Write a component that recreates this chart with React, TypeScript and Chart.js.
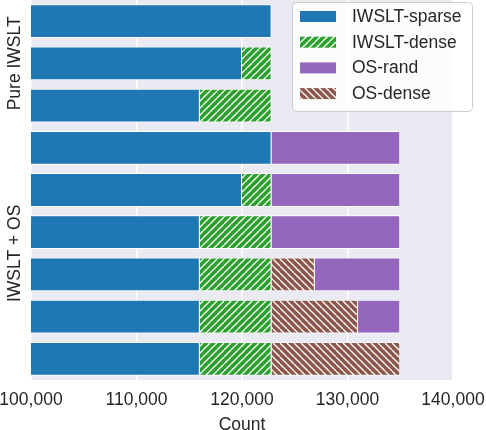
import { useEffect, useRef } from 'react'
import { Chart, registerables } from 'chart.js'

Chart.register(...registerables)

// one row per bar, top to bottom
const rows = ['p1', 'p2', 'p3', 'o1', 'o2', 'o3', 'o4', 'o5', 'o6']
const groupLabels = ['Pure IWSLT', 'IWSLT + OS']
const groupSizes = [3, 6]

const iwsltSparse = [122800, 120000, 116000, 122800, 120000, 116000, 116000, 116000, 116000]
const iwsltDense = [null, 2800, 6800, null, 2800, 6800, 6800, 6800, 6800]
const osDense = [null, null, null, null, null, null, 4100, 8200, 12200]
const osRand = [null, null, null, 12200, 12200, 12200, 8100, 4000, null]

const xTicks = [100000, 110000, 120000, 130000, 140000]

const TEXT = '#262626'
const FONT = "'Liberation Sans', Arial, sans-serif"
const FS = 17.5

function hatch(color: string, dir: '/' | '\\') {
  const s = 7
  const c = document.createElement('canvas')
  c.width = s
  c.height = s
  const g = c.getContext('2d')!
  g.fillStyle = color
  g.fillRect(0, 0, s, s)
  g.strokeStyle = '#ffffff'
  g.lineWidth = 1.3
  for (let k = -1; k <= 1; k++) {
    g.beginPath()
    if (dir === '/') {
      g.moveTo(k * s, s)
      g.lineTo(k * s + s, 0)
    } else {
      g.moveTo(k * s, 0)
      g.lineTo(k * s + s, s)
    }
    g.stroke()
  }
  return g.createPattern(c, 'repeat')!
}

const plotBg = {
  id: 'plotBg',
  beforeDraw(chart: Chart) {
    const { ctx, chartArea: a } = chart
    ctx.save()
    ctx.fillStyle = '#eaeaf2'
    ctx.fillRect(a.left, a.top, a.right - a.left, a.bottom - a.top)
    ctx.restore()
  },
}

const groupText = {
  id: 'groupText',
  afterDraw(chart: Chart) {
    const { ctx } = chart
    const y = chart.scales.y
    let start = 0
    ctx.save()
    ctx.fillStyle = TEXT
    ctx.font = `${FS}px ${FONT}`
    ctx.textAlign = 'center'
    ctx.textBaseline = 'middle'
    groupLabels.forEach((label, i) => {
      const end = start + groupSizes[i] - 1
      const cy = (y.getPixelForValue(start) + y.getPixelForValue(end)) / 2
      ctx.save()
      ctx.translate(15, cy)
      ctx.rotate(-Math.PI / 2)
      ctx.fillText(label, 0, 0)
      ctx.restore()
      start = end + 1
    })
    ctx.restore()
  },
}

// legend lists OS-rand before OS-dense
const legendOrder = [0, 1, 3, 2]

const boxLegend = {
  id: 'boxLegend',
  afterDraw(chart: Chart) {
    const { ctx } = chart
    const left = 292.5
    const top = 2.5
    const w = 180
    const h = 109
    ctx.save()
    ctx.beginPath()
    ctx.roundRect(left, top, w, h, 4)
    ctx.fillStyle = 'rgba(255,255,255,0.85)'
    ctx.fill()
    ctx.strokeStyle = '#cccccc'
    ctx.lineWidth = 1
    ctx.stroke()
    ctx.font = `${FS}px ${FONT}`
    ctx.textBaseline = 'middle'
    legendOrder.forEach((di, i) => {
      const ds = chart.data.datasets[di]
      const cy = 16.5 + i * 25.7
      ctx.fillStyle = ds.backgroundColor as any
      ctx.fillRect(300, cy - 5.5, 36, 11)
      ctx.fillStyle = TEXT
      ctx.fillText(ds.label as string, 352, cy + 0.5)
    })
    ctx.restore()
  },
}

export default function App() {
  const canvasRef = useRef<HTMLCanvasElement>(null)
  const chartRef = useRef<Chart | null>(null)

  useEffect(() => {
    document.body.style.margin = '0'
    if (!canvasRef.current) return
    if (chartRef.current) chartRef.current.destroy()

    const common = { borderColor: '#ffffff', borderWidth: 1, barPercentage: 0.8, categoryPercentage: 1.0 }

    chartRef.current = new Chart(canvasRef.current, {
      type: 'bar',
      data: {
        labels: rows,
        datasets: [
          { label: 'IWSLT-sparse', data: iwsltSparse, backgroundColor: '#1f77b4', ...common },
          { label: 'IWSLT-dense', data: iwsltDense, backgroundColor: hatch('#2ca02c', '/'), ...common },
          { label: 'OS-dense', data: osDense, backgroundColor: hatch('#8c564b', '\\'), ...common },
          { label: 'OS-rand', data: osRand, backgroundColor: '#9467bd', ...common },
        ],
      },
      options: {
        indexAxis: 'y',
        animation: false,
        responsive: true,
        maintainAspectRatio: false,
        layout: { padding: { left: 31, right: 33, top: 0, bottom: 0 } },
        scales: {
          x: {
            stacked: true,
            min: 100000,
            max: 140000,
            afterBuildTicks: (scale: any) => {
              scale.ticks = xTicks.map((v) => ({ value: v }))
            },
            afterFit: (scale: any) => {
              scale.height = 50
              scale.paddingLeft = 0
              scale.paddingRight = 0
            },
            grid: { color: '#ffffff', lineWidth: 1.6, drawTicks: false },
            border: { display: false },
            ticks: {
              padding: 10,
              color: TEXT,
              font: { family: FONT, size: FS },
              callback: (v) => Number(v).toLocaleString('en-US'),
            },
            title: {
              display: true,
              text: 'Count',
              color: TEXT,
              font: { family: FONT, size: FS },
              padding: { top: 0, bottom: -6 },
            },
          },
          y: {
            stacked: true,
            display: false,
          },
        },
        plugins: {
          legend: { display: false },
          tooltip: { enabled: false },
        },
      },
      plugins: [plotBg, groupText, boxLegend],
    })

    return () => {
      if (chartRef.current) chartRef.current.destroy()
      chartRef.current = null
    }
  }, [])

  return (
    <div style={{ width: 486, height: 430, position: 'relative' }}>
      <canvas ref={canvasRef} />
    </div>
  )
}
